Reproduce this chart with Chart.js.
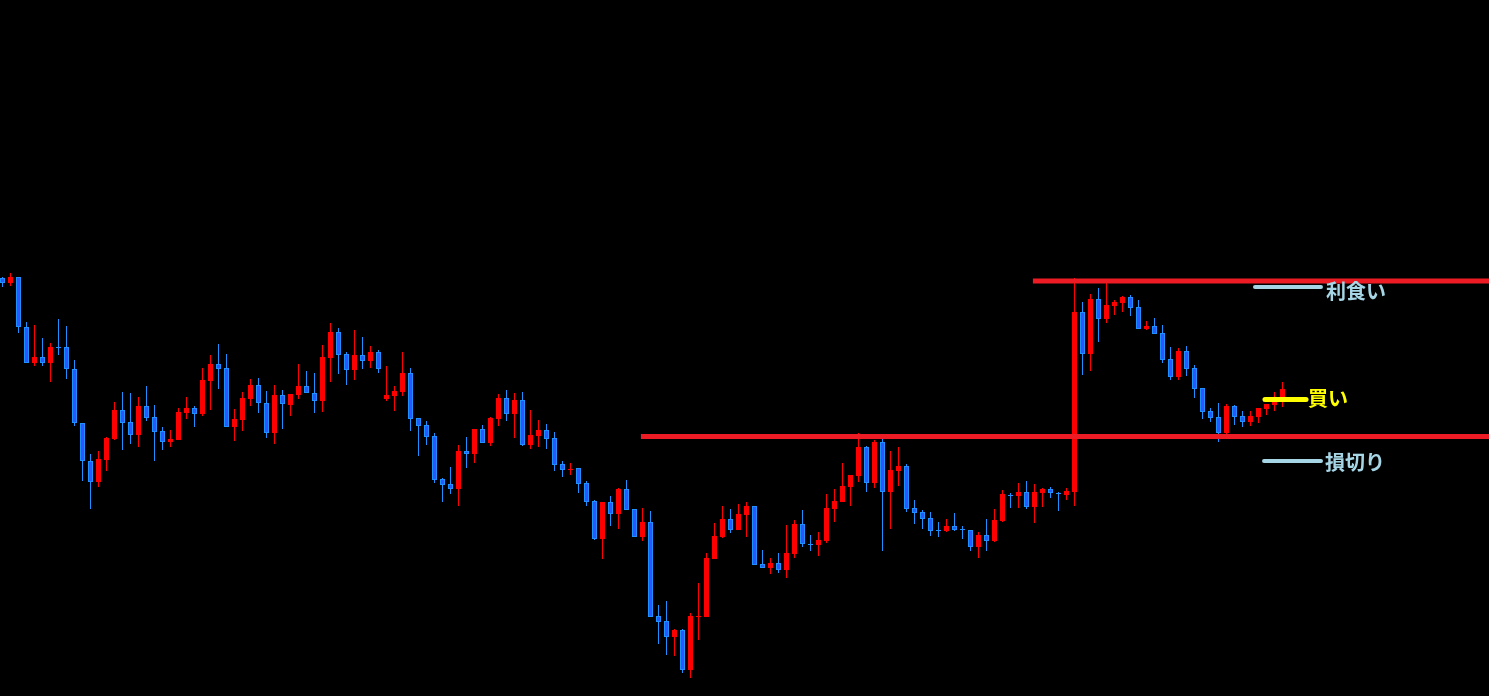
<!DOCTYPE html>
<html lang="ja">
<head>
<meta charset="utf-8">
<title>Candles</title>
<script src="https://cdn.jsdelivr.net/npm/chart.js@4.4.1/dist/chart.umd.min.js"></script>
<style>
  html, body { margin: 0; padding: 0; background: #000; overflow: hidden; }
  #wrap { position: relative; width: 1489px; height: 696px; }
</style>
</head>
<body>
<div id="wrap"><canvas id="chart"></canvas></div>
<script>
// OHLC, one value per candle (161 candles)
const openPrices = [
  422,417,423,373,337,343,337,353,353,331, 277,239,218,240,261,290,278,265,294,283,
  269,258,260,287,292,286,319,336,332,273, 280,301,315,297,267,305,295,305,314,307,
  299,342,368,346,330,345,339,348,301,304, 308,327,282,275,264,221,216,211,249,246,
  271,257,281,302,286,300,255,264,270,262, 236,231,232,217,199,161,198,186,211,191,
  163,178,84,79,63,70,30,84,83,141,        163,181,170,185,194,136,132,137,130,146,
  176,156,155,159,191,198,213,224,253,217, 258,208,229,234,192,188,182,170,169,174,
  171,170,153,165,159,179,205,204,208,193, 207,211,207,205,208,388,346,401,381,394,
  397,403,393,371,374,367,341,323,349,332, 312,289,283,267,294,284,278,283,291,295,
  302
];
const highPrices = [
  423,427,423,378,375,362,357,381,374,340, 277,246,249,263,298,308,307,303,314,295,
  273,270,292,303,294,332,345,356,346,291, 308,321,322,309,315,310,306,336,329,327,
  355,377,372,348,370,363,354,350,334,314, 348,332,282,279,267,222,233,255,263,271,
  275,283,306,310,307,308,290,280,276,268, 239,237,232,219,200,198,204,212,220,191,
  192,189,95,99,71,71,87,117,147,177,      194,191,196,198,194,150,142,147,175,180,
  190,165,168,206,211,237,225,267,254,260, 261,249,253,236,200,190,188,178,181,187,
  174,170,168,181,191,210,207,217,219,216, 212,213,208,212,422,398,406,412,417,400,
  404,405,400,379,382,375,353,352,354,335, 312,292,297,296,295,289,289,292,296,308,
  318
];
const lowPrices = [
  413,414,367,337,334,334,318,345,321,274, 219,191,213,229,260,250,256,253,279,239,
  250,253,260,281,273,284,290,311,273,259, 269,294,287,262,256,271,284,301,307,287,
  288,318,326,315,320,331,332,327,299,289, 304,269,244,255,217,198,206,194,232,237,
  257,254,274,279,262,254,251,253,251,229, 223,225,207,194,160,141,174,171,190,163,
  159,83,56,45,44,27,22,60,83,141,         162,167,170,163,135,132,126,127,122,142,
  153,149,144,157,178,198,194,218,208,212, 149,171,214,188,176,171,164,163,168,169,
  161,149,142,149,158,178,192,192,191,177, 193,202,189,200,194,325,329,358,377,385,
  388,384,371,370,366,337,320,320,324,302, 281,278,258,266,275,273,274,277,285,289,
  293
];
const closePrices = [
  417,423,373,337,343,337,353,352.6,331,277, 239,218,241,262,290,277,265,294,282,268,
  258,261,288,292,286,320,336,331,273,281, 302,315,297,267,305,296,306,314,307,299,
  343,368,345,330,345,339,348,331,305,309, 327,281,274,263,220,215,211,249,246,271,
  257,282,302,286,300,255,265,270,261,235, 230,231.4,216,198,161,198,186,211,190,163,
  178,83,78,63,70,30,84,84.4,142,164,      181,170,186,194,135,132,137,130,147,176,
  156,155.6,160,192,199,214,225,253,217,258, 208,230,234,191,187,181,169,169.6,174,170,
  170.6,153,165,159,180,206,204.6,208,193,208, 211,207,206.6,209,388,346,401,381,395,398,
  403,392,371,374,366,340,323,349,331,311, 288,282,267,294,283,278,284,292,296,298,
  311
];

// trade levels drawn on the right
const boxTop = 419;          // high of the breakout
const boxBottom = 263.5;     // range top that got broken
const boxTopFrom = 128.8;
const boxBottomFrom = 79.8;
const levelNames = ['利食い', '買い', '損切り'];
const levelPrices = [413, 300.5, 239];
const levelFrom = [156.56, 157.81, 157.69];
const levelTo = [164.81, 162.94, 164.81];
const levelTextX = [165.44, 163.19, 165.31];

const upColor = '#FF0000';
const downFill = '#2B56FF';
const downEdge = '#1E90FF';
const lineRed = '#ED1C24';
const levelColors = ['#A6D6E6', '#FFFF00', '#A6D6E6'];
const levelWidths = [4, 5, 4];
const levelTextDy = [4.5, -1.5, 1.5];

const xMin = -0.3125;
const xMax = xMin + 1489 / 8;

const idx = openPrices.map((_, i) => i);
const isUp = idx.map(i => closePrices[i] > openPrices[i]);

const bodyRange = i => {
  const o = openPrices[i], c = closePrices[i];
  if (Math.abs(c - o) < 1) { const m = Math.round(Math.max(o, c)); return [m - 1, m]; }
  return [Math.min(o, c), Math.max(o, c)];
};

const levelText = {
  id: 'levelText',
  afterDatasetsDraw(chart) {
    const { ctx, scales: { x, y } } = chart;
    ctx.save();
    ctx.font = 'bold 20px "Noto Sans CJK JP", sans-serif';
    ctx.textBaseline = 'middle';
    ctx.textAlign = 'left';
    levelNames.forEach((name, k) => {
      ctx.fillStyle = levelColors[k];
      ctx.fillText(name, x.getPixelForValue(levelTextX[k]), y.getPixelForValue(levelPrices[k]) + levelTextDy[k]);
    });
    ctx.restore();
  }
};

const levelDatasets = levelNames.map((name, k) => ({
  type: 'line',
  label: name,
  data: [{ x: levelFrom[k], y: levelPrices[k] }, { x: levelTo[k], y: levelPrices[k] }],
  borderColor: levelColors[k],
  borderWidth: levelWidths[k],
  borderCapStyle: 'round',
  pointRadius: 0,
  order: 0
}));

new Chart(document.getElementById('chart'), {
  type: 'bar',
  data: {
    datasets: [
      {
        label: 'wick',
        data: idx.map(i => ({ x: i, y: [lowPrices[i], highPrices[i]] })),
        backgroundColor: idx.map(i => isUp[i] ? upColor : downEdge),
        barThickness: 1,
        grouped: false,
        inflateAmount: 0,
        borderWidth: 0,
        order: 3
      },
      {
        label: 'body',
        data: idx.map(i => ({ x: i, y: bodyRange(i) })),
        backgroundColor: idx.map(i => isUp[i] ? upColor : downFill),
        borderColor: idx.map(i => isUp[i] ? upColor : downEdge),
        borderWidth: idx.map(i => isUp[i] ? 0 : 1),
        borderSkipped: false,
        barThickness: 5,
        grouped: false,
        inflateAmount: 0,
        order: 2
      },
      {
        type: 'line',
        label: 'top',
        data: [{ x: boxTopFrom, y: boxTop }, { x: xMax, y: boxTop }],
        borderColor: lineRed,
        borderWidth: 5,
        pointRadius: 0,
        order: 1
      },
      {
        type: 'line',
        label: 'bottom',
        data: [{ x: boxBottomFrom, y: boxBottom }, { x: xMax, y: boxBottom }],
        borderColor: lineRed,
        borderWidth: 5,
        pointRadius: 0,
        order: 1
      },
      ...levelDatasets
    ]
  },
  options: {
    responsive: true,
    maintainAspectRatio: false,
    animation: false,
    events: [],
    layout: { padding: 0 },
    plugins: { legend: { display: false }, tooltip: { enabled: false } },
    scales: {
      x: { type: 'linear', display: false, min: xMin, max: xMax, offset: false, bounds: 'data' },
      y: { type: 'linear', display: false, min: 4, max: 700, beginAtZero: false, bounds: 'data' }
    }
  },
  plugins: [levelText]
});
</script>
</body>
</html>
